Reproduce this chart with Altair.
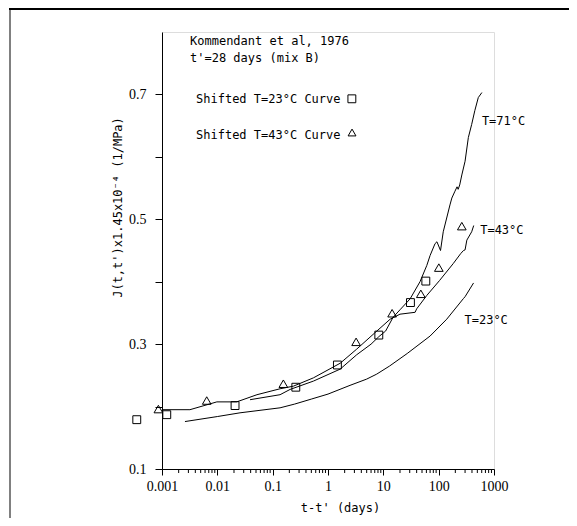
import altair as alt
import pandas as pd

# ---- data ----
# curve starting at t-t'=0.001 (ends at the T=43°C label)
curveA_t = [0.001, 0.0032, 0.0098, 0.0224, 0.052, 0.136, 0.237, 0.545, 1.66, 3.3, 7.0, 13.3,
            20, 37.5, 40, 61, 104, 183, 250, 281, 300, 323, 395, 430]
curveA_y = [0.195, 0.195, 0.2075, 0.2075, 0.219, 0.2285, 0.2327, 0.246, 0.2694, 0.292, 0.318, 0.340,
            0.348, 0.351, 0.3565, 0.378, 0.402, 0.429, 0.445, 0.450, 0.451, 0.4666, 0.480, 0.490]
# curve starting at t-t'=0.04 (ends at the T=71°C label)
curveB_t = [0.039, 0.136, 0.206, 0.545, 1.66, 3.3, 6.0, 8.3, 11, 15, 20, 30.5, 46, 61, 70, 86,
            93, 108, 121, 160, 173, 197, 215, 225, 240, 262, 300, 344, 395, 450, 520, 604]
curveB_y = [0.211, 0.219, 0.2274, 0.2408, 0.260, 0.283, 0.300, 0.312, 0.321, 0.343, 0.355, 0.3726,
            0.400, 0.426, 0.442, 0.461, 0.464, 0.450, 0.480, 0.523, 0.534, 0.545, 0.552, 0.548,
            0.555, 0.571, 0.593, 0.631, 0.652, 0.674, 0.695, 0.703]
# T=23°C curve
curve23_t = [0.0026, 0.01, 0.0257, 0.136, 0.25, 0.5, 1.0, 2.5, 5.0, 7.6, 13, 27, 70, 140, 280, 300, 427]
curve23_y = [0.176, 0.184, 0.190, 0.198, 0.204, 0.212, 0.220, 0.234, 0.244, 0.252, 0.265, 0.285, 0.313,
             0.340, 0.373, 0.376, 0.398]

# shifted T=23°C curve (squares)
sq_t = [0.00035, 0.00122, 0.0209, 0.262, 1.48, 8.28, 30.9, 58.6]
sq_y = [0.179, 0.187, 0.2016, 0.231, 0.2666, 0.3145, 0.3666, 0.401]
# shifted T=43°C curve (triangles)
tri_t = [0.00086, 0.00643, 0.156, 3.22, 14.4, 47.6, 100.7, 262]
tri_y = [0.196, 0.2097, 0.2366, 0.3037, 0.3495, 0.3806, 0.4226, 0.489]

x_major = [0.001, 0.01, 0.1, 1, 10, 100, 1000]
x_minor = [m * 10 ** e for e in range(-3, 3) for m in range(2, 10)]
y_ticks = [0.1, 0.2, 0.3, 0.4, 0.5, 0.6, 0.7]
y_labels = ["0.1", "0.3", "0.5", "0.7"]

notes_text = ["Kommendant et al, 1976", "t'=28 days (mix B)",
              "Shifted T=23°C Curve", "Shifted T=43°C Curve",
              "T=71°C", "T=43°C", "T=23°C"]
notes_t = [0.00321, 0.00321, 0.00412, 0.00412, 604, 563, 293]
notes_y = [0.786, 0.758, 0.693, 0.635, 0.658, 0.483, 0.339]

key_shape = ["square", "triangle-up"]
key_t = [2.70, 2.72]
key_y = [0.693, 0.639]

# ---- tables ----
rows = []
for name, ts, ys in [("A", curveA_t, curveA_y), ("B", curveB_t, curveB_y), ("C", curve23_t, curve23_y)]:
    for i, (t, y) in enumerate(zip(ts, ys)):
        rows.append({"series": name, "i": i, "t": t, "y": y})
lines_df = pd.DataFrame(rows)
sq_df = pd.DataFrame({"t": sq_t, "y": sq_y})
tri_df = pd.DataFrame({"t": tri_t, "y": tri_y})
notes_df = pd.DataFrame({"text": notes_text, "t": notes_t, "y": notes_y})
key_df = pd.DataFrame({"shape": key_shape, "t": key_t, "y": key_y})
minor_df = pd.DataFrame({"v": x_minor})

W, H = 332, 437
FONT = "DejaVu Sans Mono"
NARROW = "Liberation Sans Narrow"

xscale = alt.Scale(type="log", domain=[0.001, 1000], nice=False)
yscale = alt.Scale(domain=[0.1, 0.8], nice=False, zero=False)

label_expr = "indexof(" + str(y_labels) + ", datum.label) >= 0 ? datum.label : ''"

x_axis = alt.Axis(values=x_major, tickSize=6, labelPadding=4, grid=False, labelFlush=False,
                  labelOverlap=False,
                  domainColor="black", tickColor="black", labelColor="black",
                  labelFont=NARROW, labelFontSize=14, title="t-t' (days)",
                  titleFont=FONT, titleFontSize=12, titleFontWeight="normal",
                  titleColor="black", titleX=178, titleY=38, titleBaseline="middle",
                  titleAlign="center",
                  labelExpr="datum.value >= 1 ? format(datum.value, 'd') : format(datum.value, '~g')")
y_axis = alt.Axis(values=y_ticks, format=".1f", labelExpr=label_expr, tickSize=7, labelPadding=9,
                  grid=False, labelFlush=False, labelOverlap=False,
                  domainColor="black", tickColor="black", labelColor="black",
                  labelFont=NARROW, labelFontSize=14, labelBaseline="middle",
                  title="J(t,t')x1.45x10⁻⁴ (1/MPa)", titleFont=FONT, titleFontSize=12,
                  titleFontWeight="normal", titleColor="black", titleAngle=270,
                  titleX=-45, titleY=175, titleBaseline="middle", titleAlign="center")

base_x = alt.X("t:Q", scale=xscale, axis=x_axis)
base_y = alt.Y("y:Q", scale=yscale, axis=y_axis)

lines = alt.Chart(lines_df).mark_line(color="black", strokeWidth=1).encode(
    x=base_x, y=base_y, detail="series:N", order="i:Q")

squares = alt.Chart(sq_df).mark_point(shape="square", filled=False, color="black",
                                      size=62, strokeWidth=1, opacity=1).encode(
    x=alt.X("t:Q", scale=xscale), y=alt.Y("y:Q", scale=yscale))
triangles = alt.Chart(tri_df).mark_point(shape="triangle-up", filled=False, color="black",
                                         size=75, strokeWidth=1, opacity=1).encode(
    x=alt.X("t:Q", scale=xscale), y=alt.Y("y:Q", scale=yscale))

keys = alt.Chart(key_df).mark_point(filled=False, color="black", size=62, strokeWidth=1,
                                    opacity=1).encode(
    x=alt.X("t:Q", scale=xscale), y=alt.Y("y:Q", scale=yscale),
    shape=alt.Shape("shape:N", scale=None))

notes = alt.Chart(notes_df).mark_text(align="left", baseline="middle", font=FONT,
                                      fontSize=12, color="black").encode(
    x=alt.X("t:Q", scale=xscale), y=alt.Y("y:Q", scale=yscale), text="text:N")

minor = alt.Chart(minor_df).mark_rule(color="black", strokeWidth=1).encode(
    x=alt.X("v:Q", scale=xscale), y=alt.value(H), y2=alt.value(H + 4))

frame_left = alt.Chart(pd.DataFrame({"k": [0]})).mark_rule(color="#808080", strokeWidth=2).encode(
    x=alt.value(-152), y=alt.value(-23), y2=alt.value(486))
frame_top = alt.Chart(pd.DataFrame({"k": [0]})).mark_rule(color="black", strokeWidth=2).encode(
    x=alt.value(-153), x2=alt.value(407), y=alt.value(-23))

chart = alt.layer(lines, squares, triangles, keys, notes, minor, frame_left, frame_top).properties(
    width=W, height=H,
    autosize=alt.AutoSizeParams(type="none"),
    padding={"left": 154, "top": 24, "right": 75, "bottom": 49},
).configure_view(stroke=None).configure(background="white")

chart.save("out.html", embed_options={"renderer": "svg", "actions": False})
